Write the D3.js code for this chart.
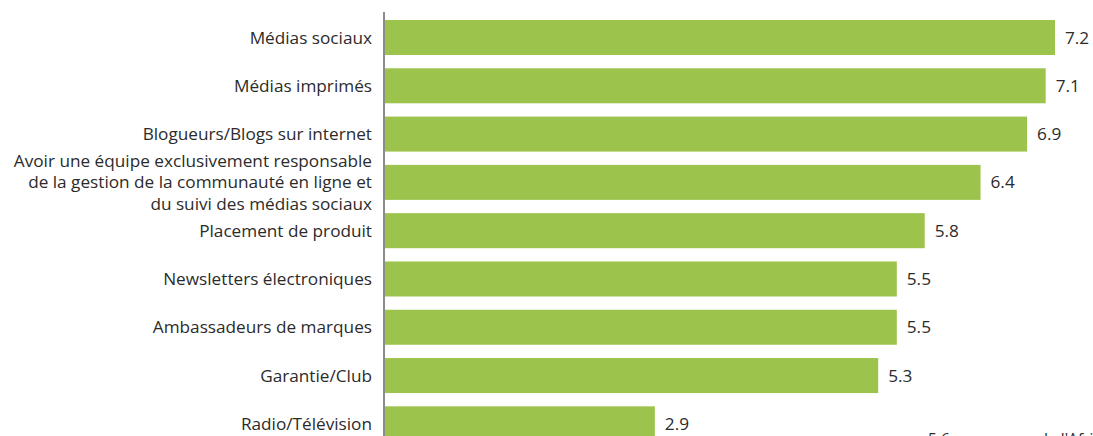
<!DOCTYPE html>
<html>
<head>
<meta charset="utf-8">
<script src="https://cdn.jsdelivr.net/npm/d3@7"></script>
<style>
  body { margin: 0; background: #fff; overflow: hidden; }
  svg { display: block; }
  text { font-family: "Open Sans", "Noto Sans", sans-serif; fill: #2b2b2b; }
</style>
</head>
<body>
<div id="chart"></div>
<script>
// categories (lines of each label) and values
let categories = [
    ["Médias sociaux"],
    ["Médias imprimés"],
    ["Blogueurs/Blogs sur internet"],
    ["Avoir une équipe exclusivement responsable", "de la gestion de la communauté en ligne et", "du suivi des médias sociaux"],
    ["Placement de produit"],
    ["Newsletters électroniques"],
    ["Ambassadeurs de marques"],
    ["Garantie/Club"],
    ["Radio/Télévision"]
];
let values = [7.2, 7.1, 6.9, 6.4, 5.8, 5.5, 5.5, 5.3, 2.9];
let valueLabels = ["7.2", "7.1", "6.9", "6.4", "5.8", "5.5", "5.5", "5.3", "2.9"];
let noteText = "5.6 = moyenne de l'Afrique";

let width = 1093, height = 436;

let svg = d3.select("#chart").append("svg")
    .attr("width", width)
    .attr("height", height);

let data = categories.map((c, i) => ({ key: i, lines: c, value: values[i], label: valueLabels[i] }));

let x = d3.scaleLinear()
    .domain([0, 7.2])
    .range([385, 1055]);

let y = d3.scaleBand()
    .domain(data.map(d => d.key))
    .range([13.35, 448])
    .paddingInner(0.275)
    .paddingOuter(0.1375);

// bars
svg.selectAll(".bar")
    .data(data)
    .enter().append("rect")
    .attr("class", "bar")
    .attr("x", x(0))
    .attr("y", d => y(d.key))
    .attr("width", d => x(d.value) - x(0))
    .attr("height", y.bandwidth())
    .attr("fill", "#9cc44c");

// axis line
svg.append("line")
    .attr("x1", 384).attr("x2", 384)
    .attr("y1", 12).attr("y2", height)
    .attr("stroke", "#8c8c8c")
    .attr("stroke-width", 2);

// category labels
let lineH = 21.5;
let labels = svg.selectAll(".cat")
    .data(data)
    .enter().append("text")
    .attr("class", "cat")
    .attr("text-anchor", "end")
    .attr("font-size", 17.2);

labels.each(function (d) {
    let n = d.lines.length;
    let cy = y(d.key) + y.bandwidth() / 2;
    d3.select(this).selectAll("tspan")
        .data(d.lines)
        .enter().append("tspan")
        .attr("x", 372)
        .attr("y", (l, i) => cy + (i - (n - 1) / 2) * lineH)
        .attr("dy", "0.35em")
        .text(l => l);
});

// value labels
svg.selectAll(".val")
    .data(data)
    .enter().append("text")
    .attr("class", "val")
    .attr("x", d => x(d.value) + 10)
    .attr("y", d => y(d.key) + y.bandwidth() / 2)
    .attr("dy", "0.35em")
    .attr("font-size", 17.2)
    .text(d => d.label);

// note at the bottom, cut by the edge as in the original
svg.append("text")
    .attr("x", 928)
    .attr("y", 445)
    .attr("font-size", 15.5)
    .text(noteText);
</script>
</body>
</html>
